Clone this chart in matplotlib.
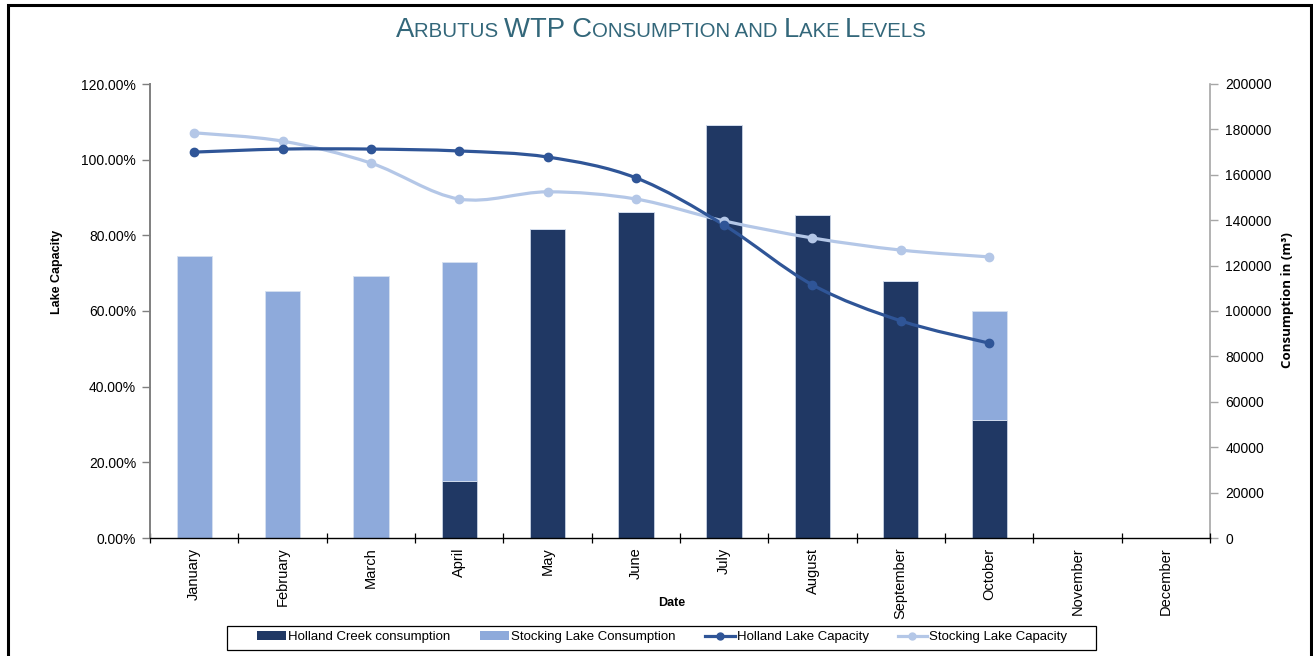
import matplotlib as mpl
import matplotlib.pyplot as plt
import numpy as np
from matplotlib.path import Path
from matplotlib.patches import PathPatch, Rectangle, Patch
from matplotlib.lines import Line2D

mpl.rcParams["font.family"] = "Liberation Sans"

# Data
months = ["January", "February", "March", "April", "May", "June", "July",
          "August", "September", "October", "November", "December"]
holland_consumption = [0, 0, 0, 25000, 136000, 143500, 182000, 142300, 113200, 52000, 0, 0]
stocking_consumption = [124200, 108800, 115400, 96500, 0, 0, 0, 0, 0, 48000, 0, 0]
holland_capacity = [102.0, 102.8, 102.8, 102.3, 100.7, 95.2, 82.7, 66.9, 57.4, 51.5]
stocking_capacity = [107.1, 104.9, 99.1, 89.6, 91.5, 89.6, 83.8, 79.3, 76.1, 74.3]

c_holland_bar = "#203864"
c_stocking_bar = "#8eaadb"
c_holland_line = "#2f5597"
c_stocking_line = "#b4c7e7"


def smooth_path(xs, ys):
    # Excel-like smoothed line: Catmull-Rom segments as cubic Bezier curves
    pts = np.column_stack([xs, ys]).astype(float)
    ext = np.vstack([pts[0], pts, pts[-1]])
    verts = [pts[0]]
    codes = [Path.MOVETO]
    for i in range(len(pts) - 1):
        p0, p1, p2, p3 = ext[i], ext[i + 1], ext[i + 2], ext[i + 3]
        verts += [p1 + (p2 - p0) / 6, p2 - (p3 - p1) / 6, p2]
        codes += [Path.CURVE4] * 3
    return Path(verts, codes)


fig = plt.figure(figsize=(13.13, 6.56), dpi=100)
ax = fig.add_axes([150 / 1313, 1 - 538 / 656, 1060 / 1313, 454 / 656])
ax2 = ax.twinx()

x = np.arange(len(months))
bw = 0.4
ax2.bar(x, holland_consumption, width=bw, color=c_holland_bar,
        edgecolor="#c8d2e4", linewidth=0.6)
ax2.bar(x, stocking_consumption, width=bw, bottom=holland_consumption,
        color=c_stocking_bar, edgecolor="#d6e0f0", linewidth=0.6)

ax.set_zorder(ax2.get_zorder() + 1)
ax.patch.set_visible(False)

for vals, col in [(stocking_capacity, c_stocking_line), (holland_capacity, c_holland_line)]:
    xi = x[:len(vals)]
    ax.add_patch(PathPatch(smooth_path(xi, vals), fill=False, edgecolor=col,
                           linewidth=2.3, capstyle="round"))
    ax.plot(xi, vals, "o", color=col, markersize=6, linestyle="none")

ax.set_xlim(-0.5, 11.5)
ax.set_ylim(0, 120)
ax2.set_ylim(0, 200000)

ax.set_yticks(np.arange(0, 121, 20))
ax.set_yticklabels([f"{v:.2f}%" for v in np.arange(0, 121, 20)])
ax2.set_yticks(np.arange(0, 200001, 20000))
ax2.set_yticklabels([str(v) for v in range(0, 200001, 20000)])

ax.set_xticks(x)
ax.set_xticklabels(months, rotation=90, va="top", ha="center")
ax.set_xticks(np.arange(-0.5, 12, 1), minor=True)
ax.tick_params(axis="x", which="major", length=0, pad=7, labelsize=10.5)
ax.tick_params(axis="x", which="minor", direction="inout", length=7, width=0.9, color="black")
ax.tick_params(axis="y", direction="out", length=6, width=1, color="#7f7f7f",
               pad=4, labelsize=10)
ax2.tick_params(axis="y", direction="out", length=6, width=1, color="#a6a6a6",
                pad=5, labelsize=10)

for s in ["top", "right"]:
    ax.spines[s].set_visible(False)
for s in ["top", "left", "bottom"]:
    ax2.spines[s].set_visible(False)
ax.spines["left"].set_color("#7f7f7f")
ax.spines["left"].set_linewidth(1.4)
ax.spines["bottom"].set_color("black")
ax.spines["bottom"].set_linewidth(1.0)
ax2.spines["right"].set_color("#a6a6a6")
ax2.spines["right"].set_linewidth(1.2)

# axis titles
fig.text(57 / 1313, 1 - 272 / 656, "Lake Capacity", rotation=90, ha="center",
         va="center", fontsize=9, fontweight="bold")
fig.text(1287 / 1313, 1 - 300 / 656, "Consumption in (m³)", rotation=90, ha="center",
         va="center", fontsize=9.5, fontweight="bold", family="Open Sans")
fig.text(672 / 1313, 1 - 603 / 656, "Date", ha="center", va="center",
         fontsize=9, fontweight="bold")

# title in small caps: pieces laid out one after another
title_runs = [("A", 1), ("RBUTUS ", 0), ("WTP C", 1), ("ONSUMPTION AND ", 0),
              ("L", 1), ("AKE ", 0), ("L", 1), ("EVELS", 0)]
title_color = "#33677a"
renderer = fig.canvas.get_renderer()
pieces = []
xpos = 0.0
for txt, big in title_runs:
    t = fig.text(0, 1 - 37 / 656, txt, fontsize=19.8 if big else 14.7,
                 color=title_color, va="baseline", ha="left")
    w = t.get_window_extent(renderer).width
    pieces.append((t, xpos))
    xpos += w / 1313
start = 661 / 1313 - xpos / 2
for t, xo in pieces:
    t.set_x(start + xo)

# legend (frame drawn separately, the original box is padded wide)
handles = [Patch(facecolor=c_holland_bar), Patch(facecolor=c_stocking_bar),
           Line2D([], [], color=c_holland_line, lw=2.3, marker="o", markersize=5),
           Line2D([], [], color=c_stocking_line, lw=2.3, marker="o", markersize=5)]
labels = ["Holland Creek consumption", "Stocking Lake Consumption",
          "Holland Lake Capacity", "Stocking Lake Capacity"]
fig.legend(handles, labels, loc="center", ncol=4,
           bbox_to_anchor=(662 / 1313, 1 - 637 / 656), fontsize=9.5,
           frameon=False, handlelength=2.25, handleheight=0.6,
           handletextpad=0.15, columnspacing=2.2, borderpad=0.35)
fig.patches.append(Rectangle((227 / 1313, 1 - 650 / 656), 869 / 1313, 24 / 656,
                             transform=fig.transFigure, fill=False,
                             edgecolor="black", linewidth=0.9))

# outer chart frame
fig.patches.append(Rectangle((8 / 1313, -0.2), 1303 / 1313, 1.2 - 5 / 656,
                             transform=fig.transFigure, fill=False,
                             edgecolor="black", linewidth=2.2))

fig.savefig("out.png", dpi=100)
